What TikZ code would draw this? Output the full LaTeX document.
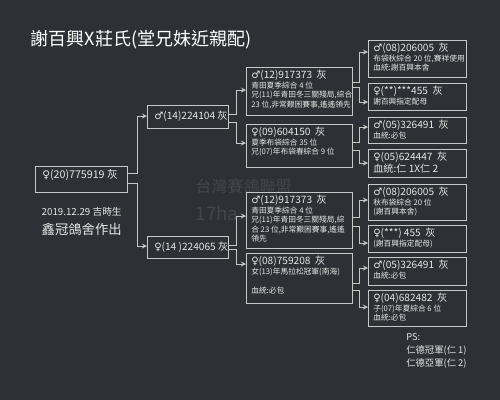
\documentclass[tikz,border=0pt]{standalone}
\usepackage{fontspec}
\setmainfont{Noto Sans CJK TC}
\newfontfamily\symfont{DejaVu Sans}
\usetikzlibrary{calc}
\definecolor{bg}{HTML}{2D3035}
\definecolor{ink}{HTML}{E6E6E6}
\definecolor{edgegray}{HTML}{C8C8C8}
\definecolor{wmgray}{HTML}{43474D}
\newcommand{\cock}{{\symfont ♂}}
\newcommand{\hen}{{\symfont ♀}}
\newcommand{\idfont}{\fontsize{7.6}{9}\selectfont}
\newcommand{\notefont}{\fontsize{5.8}{7.1}\selectfont}
\newcommand{\drawbird}[5]{%
\node[bird, minimum width=#4*0.75pt, minimum height=#5*0.75pt] (#1) at (#2,#3) {}; 
}
\newcommand{\birdnote}[2]{%
\node[birdtext] (#1t) at ([shift={(5,3)}]#1.north west) {#2}; 
}

\begin{document}
\begin{tikzpicture}[x=0.75pt,y=-0.75pt,
  bird/.style={draw=edgegray, fill=bg, line width=0.7pt, inner sep=0pt, outer sep=0pt, anchor=north west},
  birdtext/.style={text=ink, inner sep=0pt, anchor=north west, align=left, font=\notefont},
  link/.style={draw=edgegray, line width=0.7pt, -stealth}]

\useasboundingbox (0,0) rectangle (500,400);
\fill[bg] (0,0) rectangle (500,400);

% watermark
\node[anchor=west, text=wmgray, font=\fontsize{12}{14}\selectfont] (wm1) at (191,186) {台灣賽鴿聯盟};
\node[anchor=west, text=wmgray, font=\fontsize{14}{16}\selectfont] (wm2) at (191,213) {17ha};

\node[anchor=west, text=white, font=\fontsize{13.5}{16}\selectfont] (title) at (26,40) {謝百興X莊氏(堂兄妹近親配)};

% subject
\drawbird{subj}{35}{166}{92}{26}
\node[text=ink, inner sep=0pt, anchor=west, font=\fontsize{8}{9}\selectfont] (subjt) at ([shift={(7,-4)}]subj.west) {\hen(20)775919 灰};

\node[anchor=west, text=ink, font=\fontsize{7.3}{9}\selectfont] (born) at (37,212) {2019.12.29 吉時生};
\node[anchor=west, text=ink, font=\fontsize{10}{12}\selectfont] (loft) at (37,229) {鑫冠鴿舍作出};

% parents
\drawbird{sire}{147}{105}{81}{23}
\node[text=ink, inner sep=0pt, anchor=west, font=\idfont] (siret) at ([shift={(7,0)}]sire.west) {\cock(14)224104 灰};
\drawbird{dam}{147}{236}{81}{22}
\node[text=ink, inner sep=0pt, anchor=west, font=\idfont] (damt) at ([shift={(7,0)}]dam.west) {\hen(14 )224065 灰};

% grandparents
\drawbird{ss}{246}{67}{106}{48}
\birdnote{ss}{{\idfont\cock(12)917373 \ 灰}\\青田夏季綜合 4 位\\兄(11)年青田冬三關殘局,綜合\\23 位,非常艱困賽事,遙遙領先}
\drawbird{sd}{246}{124}{106}{43}
\birdnote{sd}{{\idfont\hen(09)604150 \ 灰}\\夏季布袋綜合 35 位\\兄(07)年布袋春綜合 9 位}
\drawbird{ds}{246}{192}{106}{56}
\birdnote{ds}{{\idfont\cock(12)917373 \ 灰}\\青田夏季綜合 4 位\\兄(11)年青田冬三關殘局,綜\\合 23 位,非常艱困賽事,遙遙\\領先}
\drawbird{dd}{246}{253}{106}{50}
\birdnote{dd}{{\idfont\hen(08)759208 \ 灰}\\女(13)年馬拉松冠軍(南海)\\ \\血統:必包}

% great-grandparents
\drawbird{sss}{368}{40}{98}{37}
\birdnote{sss}{{\idfont\cock(08)206005 \ 灰}\\布袋秋綜合 20 位,賽祥使用\\血統:謝百興本舍}
\drawbird{ssd}{368}{83}{98}{27}
\birdnote{ssd}{{\idfont\hen(**)***455 \ 灰}\\謝百興指定配母}
\drawbird{sds}{368}{117}{98}{26}
\birdnote{sds}{{\idfont\cock(05)326491 \ 灰}\\血統:必包}
\drawbird{sdd}{368}{149}{98}{28}
\birdnote{sdd}{{\idfont\hen(05)624447 \ 灰}\\{\idfont 血統:仁 1X仁 2}}
\drawbird{dss}{368}{184}{98}{36}
\birdnote{dss}{{\idfont\cock(08)206005 \ 灰}\\秋布袋綜合 20 位\\(謝百興本舍)}
\drawbird{dsd}{368}{225}{98}{27}
\birdnote{dsd}{{\idfont\hen(***) 455 \ 灰}\\(謝百興指定配母)}
\drawbird{dds}{368}{257}{98}{28}
\birdnote{dds}{{\idfont\cock(05)326491 \ 灰}\\血統:必包}
\drawbird{ddd}{368}{290}{98}{36}
\birdnote{ddd}{{\idfont\hen(04)682482 \ 灰}\\子(07)年夏綜合 6 位\\血統:必包}

% links
\draw[link] ([shift={(0,7)}]subj.north east) -- ++(10,0) |- ([shift={(0,11)}]sire.north west);
\draw[link] ([shift={(0,17)}]subj.north east) -- ++(10,0) |- ([shift={(0,10)}]dam.north west);

\draw[link] ([shift={(0,9)}]sire.north east) -- ++(8,0) |- ([shift={(0,23)}]ss.north west);
\draw[link] ([shift={(0,17)}]sire.north east) -- ++(8,0) |- ([shift={(0,19)}]sd.north west);
\draw[link] ([shift={(0,9)}]dam.north east) -- ++(8,0) |- ([shift={(0,24)}]ds.north west);
\draw[link] ([shift={(0,13)}]dam.north east) -- ++(8,0) |- ([shift={(0,11)}]dd.north west);

\draw[link] ([shift={(0,15)}]ss.north east) -- ++(7,0) |- ([shift={(0,12)}]sss.north west);
\draw[link] ([shift={(0,20)}]ss.north east) -- ++(7,0) |- ([shift={(0,19)}]ssd.north west);
\draw[link] ([shift={(0,18)}]sd.north east) -- ++(7,0) |- ([shift={(0,10)}]sds.north west);
\draw[link] ([shift={(0,26)}]sd.north east) -- ++(7,0) |- ([shift={(0,14)}]sdd.north west);
\draw[link] ([shift={(0,25)}]ds.north east) -- ++(7,0) |- ([shift={(0,16)}]dss.north west);
\draw[link] ([shift={(0,34)}]ds.north east) -- ++(7,0) |- ([shift={(0,18)}]dsd.north west);
\draw[link] ([shift={(0,30)}]dd.north east) -- ++(7,0) |- ([shift={(0,11)}]dds.north west);
\draw[link] ([shift={(0,37)}]dd.north east) -- ++(7,0) |- ([shift={(0,17)}]ddd.north west);

\node[anchor=north west, text=ink, inner sep=0pt, align=left, font=\fontsize{7}{10}\selectfont] (ps) at (406,333) {PS:\\仁德冠軍(仁 1)\\仁德亞軍(仁 2)};

\end{tikzpicture}
\end{document}
